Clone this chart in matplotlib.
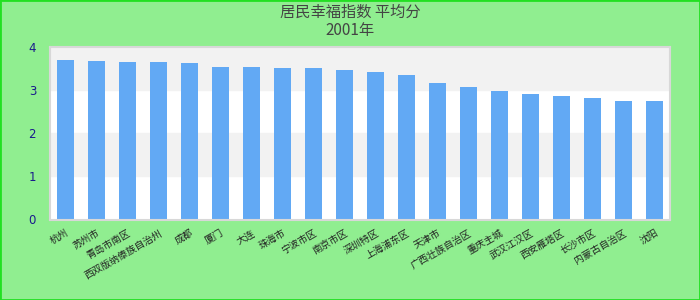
import matplotlib
matplotlib.use("Agg")
import matplotlib.pyplot as plt
from matplotlib.patches import Rectangle

plt.rcParams['font.family'] = ['Noto Sans CJK SC', 'DejaVu Sans']

title_main = "居民幸福指数 平均分"
title_sub = "2001年"
labels = ["杭州", "苏州市", "青岛市南区", "西双版纳傣族自治州", "成都", "厦门", "大连",
          "珠海市", "宁波市区", "南京市区", "深圳特区", "上海浦东区", "天津市",
          "广西壮族自治区", "重庆主城", "武汉江汉区", "西安雁塔区", "长沙市区",
          "内蒙古自治区", "沈阳"]
values = [3.69, 3.66, 3.64, 3.64, 3.62, 3.52, 3.52, 3.50, 3.50, 3.45,
          3.41, 3.34, 3.16, 3.06, 2.97, 2.90, 2.86, 2.81, 2.74, 2.74]
y_ticks = [0, 1, 2, 3, 4]

fig = plt.figure(figsize=(7, 3), dpi=100, facecolor='#90EE90')
fig.patches.append(Rectangle((0, 0), 1, 1, transform=fig.transFigure, fill=False,
                             edgecolor='#22E022', linewidth=2))

ax = fig.add_axes([50 / 700, 80.5 / 300, 620 / 700, 173 / 300])
ax.set_facecolor('white')
for lo in [1, 3]:
    ax.axhspan(lo, lo + 1, color='#F2F2F2', zorder=0)

x = list(range(len(values)))
ax.bar(x, values, width=0.55, color='#62A9F4', zorder=2)

ax.set_xlim(-0.5, len(values) - 0.5)
ax.set_ylim(0, 4)
ax.set_yticks(y_ticks)
ax.set_yticklabels([str(t) for t in y_ticks], color='#1A1A8C', fontsize=8.5,
                   family='DejaVu Sans')
ax.set_xticks(x)
ax.set_xticklabels(labels, rotation=30, ha='right', rotation_mode='anchor',
                   fontsize=7, color='#222222')
ax.tick_params(axis='both', length=0)
ax.tick_params(axis='y', pad=10)
ax.tick_params(axis='x', pad=6)
for s in ax.spines.values():
    s.set_color('#D8D8D8')
    s.set_linewidth(1.5)

fig.text(0.5, 0.96, title_main, ha='center', va='center', fontsize=11, color='#444444')
fig.text(0.5, 0.897, title_sub, ha='center', va='center', fontsize=11, color='#444444')

fig.savefig('out.png', dpi=100, facecolor=fig.get_facecolor())
